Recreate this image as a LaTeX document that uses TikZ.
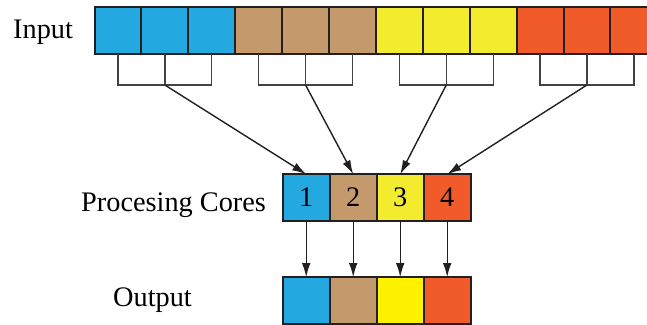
\documentclass[tikz,border=0pt]{standalone}
\usepackage{fontspec}
\setmainfont{Liberation Serif}
\usetikzlibrary{arrows.meta}
\definecolor{ink}{RGB}{35,31,32}
\definecolor{cblue}{RGB}{35,168,224}
\definecolor{ctan}{RGB}{196,154,108}
\definecolor{cyellow}{RGB}{243,236,46}
\definecolor{cyellowout}{RGB}{255,242,0}
\definecolor{corange}{RGB}{241,90,41}
\begin{document}
\begin{tikzpicture}[x=1pt,y=-1pt,
  cell/.style={draw=ink,line width=2pt,minimum width=46.9pt,minimum height=46.6pt,
    inner sep=0pt,outer sep=0pt,font=\fontsize{28.3}{34}\selectfont},
  brace/.style={draw=ink!85,line width=1.3pt},
  feed/.style={draw=ink,line width=1.4pt,-{Latex[length=14pt,width=8.5pt]}},
  lbl/.style={inner sep=0pt,anchor=base west,font=\fontsize{28.3}{34}\selectfont}]
\useasboundingbox (0,0) rectangle (647,324);
\clip (0,0) rectangle (647,324);

% input stream: four groups of three cells
\foreach \i/\c in {1/cblue,2/cblue,3/cblue,4/ctan,5/ctan,6/ctan,
                   7/cyellow,8/cyellow,9/cyellow,10/corange,11/corange,12/corange}
  \node[cell,fill=\c] (in\i) at ({94.5+46.9*(\i-0.5)},30.7) {};

% brackets gathering each group
\foreach \g/\a/\b/\m in {1/1/3/2,2/4/6/5,3/7/9/8,4/10/12/11}{
  \draw[brace] (in\a.south) -- ++(0,31) -| (in\b.south);
  \draw[brace] (in\m.south) -- ++(0,31) coordinate (b\g);
}

% processing cores
\foreach \i/\c in {1/cblue,2/ctan,3/cyellow,4/corange}
  \node[cell,fill=\c] (c\i) at ({282.7+47*(\i-0.5)},197.5) {\i};

% output cells
\foreach \i/\c in {1/cblue,2/ctan,3/cyellowout,4/corange}
  \node[cell,fill=\c] (o\i) at ({282.7+47*(\i-0.5)},300.5) {};

% connectors
\foreach \i in {1,...,4}{
  \draw[feed] (b\i) -- (c\i.north);
  \draw[feed] (c\i.south) -- (o\i.north);
}

% labels
\node[lbl] (tin) at (13,38.3) {Input};
\node[lbl] (tcore) at (81,211) {Procesing Cores};
\node[lbl] (tout) at (113,306.7) {Output};
\end{tikzpicture}
\end{document}
